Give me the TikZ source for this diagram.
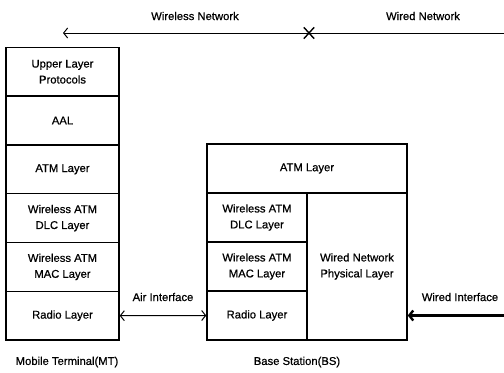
\documentclass[tikz,border=0pt]{standalone}
\usepackage{fontspec}
\setmainfont[FakeBold=0.6]{Liberation Sans}
\usetikzlibrary{arrows.meta}
\usetikzlibrary{shapes.misc}

\tikzset{
  layer/.style={draw, line width=1.4bp, align=center, inner sep=0pt,
    font=\fontsize{11.3}{16}\selectfont},
  lbl/.style={font=\fontsize{11.3}{16}\selectfont, inner sep=0pt},
  >={Straight Barb[length=4bp,width=10bp]}
}

\begin{document}
\begin{tikzpicture}[x=1bp,y=-1bp]
    \useasboundingbox (0,0) rectangle (504,372);
    \node[lbl] (wless) at (195,16) {Wireless Network};
    \node[lbl] (wired) at (423,16) {Wired Network};
    \coordinate (netleft) at (63,33);
    \coordinate (netright) at (504,33);
    \draw[->, line width=1bp] (netright) -- (netleft);
    \node[draw, cross out, minimum width=9bp, minimum height=10bp, inner sep=0pt, line width=1.4bp] (split) at (309,33) {};

    \foreach \i/\t in {1/{Upper Layer\\Protocols},2/AAL,3/ATM Layer,4/{Wireless ATM\\DLC Layer},5/{Wireless ATM\\MAC Layer},6/Radio Layer} {
        \node[layer, minimum width=113bp, minimum height=48.8bp] (mt\i) at (62.5,{22.9+48.8*\i}) {\t};
    }
    \node[lbl] (mtlbl) at (67,362) {Mobile Terminal(MT)};

    \begin{scope}
        \node[layer, minimum width=200bp, minimum height=49bp] (bsatm) at (307,168.5) {ATM Layer};
        \node[layer, minimum width=100bp, minimum height=49bp] (bsdlc) at (257,217.5) {Wireless ATM\\DLC Layer};
        \node[layer, minimum width=100bp, minimum height=49bp] (bsmac) at (257,266.5) {Wireless ATM\\MAC Layer};
        \node[layer, minimum width=100bp, minimum height=49bp] (bsradio) at (257,315.5) {Radio Layer};
        \node[layer, minimum width=100bp, minimum height=147bp] (bsphy) at (357,266.5) {Wired Network\\Physical Layer};
        \node[lbl] (bslbl) at (297,362) {Base Station(BS)};
    \end{scope}

    \node[lbl] (air) at (163,297) {Air Interface};
    \draw[<->, line width=1bp] (mt6.east) -- (bsradio.west);

    \node[lbl] (wiredif) at (460,297) {Wired Interface};
    \coordinate (wiredend) at (504,315.5);
    \draw[->, line width=2.4bp] (wiredend) -- (bsphy.east |- bsradio.east);
\end{tikzpicture}
\end{document}
